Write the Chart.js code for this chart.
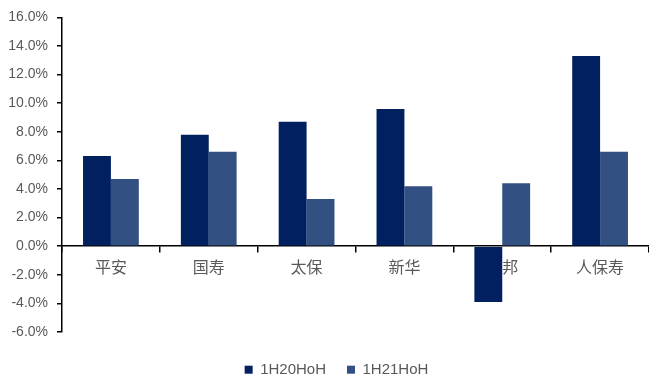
<!DOCTYPE html>
<html>
<head>
<meta charset="utf-8">
<script src="https://cdn.jsdelivr.net/npm/chart.js@4"></script>
<style>
  html, body { margin: 0; padding: 0; background: #fff; }
  #wrap { width: 649px; height: 378px; }
</style>
</head>
<body>
<div id="wrap"><canvas id="myChart" width="649" height="378"></canvas></div>
<script>
const labels = ["平安", "国寿", "太保", "新华", "友邦", "人保寿"];
const hoh20 = [6.3, 7.8, 8.7, 9.6, -3.9, 13.3];
const hoh21 = [4.7, 6.6, 3.3, 4.2, 4.4, 6.6];
const yMin = -6;
const yMax = 16;
const yStep = 2;

const font = "'Liberation Sans', 'Noto Sans CJK SC', sans-serif";
const grey = "#595959";

// fixed legend box height, and nudge it right a bit like the original
const legendSpace = {
  id: "legendSpace",
  beforeLayout(chart) {
    const lg = chart.legend;
    if (lg && !lg._patched) {
      const fit = lg.fit;
      lg.fit = function () {
        fit.call(this);
        this.height = 46;
      };
      const draw = lg.draw;
      lg.draw = function () {
        const ctx = this.ctx;
        ctx.save();
        ctx.translate(12, -1);
        draw.call(this);
        ctx.restore();
      };
      lg._patched = true;
    }
  },
};

const data = {
  labels: labels,
  datasets: [
    {
      label: "1H20HoH",
      backgroundColor: "#002060",
      data: hoh20,
    },
    {
      label: "1H21HoH",
      backgroundColor: "#325082",
      data: hoh21,
    },
  ],
};

const config = {
  type: "bar",
  data: data,
  plugins: [legendSpace],
  options: {
    responsive: false,
    animation: false,
    categoryPercentage: 0.57,
    barPercentage: 1,
    layout: { padding: { top: 13, right: 0, left: 0, bottom: 0 } },
    plugins: {
      tooltip: { enabled: false },
      legend: {
        position: "bottom",
        title: { display: true, text: "", font: { size: 1 }, padding: { top: 0, bottom: 9 } },
        labels: {
          boxWidth: 8,
          boxHeight: 8,
          color: grey,
          font: { family: font, size: 15 },
          padding: 21,
        },
      },
    },
    scales: {
      x: {
        position: { y: 0 },
        z: 1,
        border: { color: "#000", width: 1.5 },
        grid: { drawOnChartArea: false, drawTicks: true, tickLength: 6, color: "#000", lineWidth: 1.5 },
        ticks: { color: grey, font: { family: font, size: 16 }, padding: 7 },
      },
      y: {
        min: yMin,
        max: yMax,
        border: { color: "#000", width: 1.5 },
        grid: { drawOnChartArea: false, drawTicks: true, tickLength: 5, color: "#000", lineWidth: 1.5 },
        ticks: {
          stepSize: yStep,
          color: grey,
          font: { family: font, size: 14 },
          padding: 9,
          callback: (v) => v.toFixed(1) + "%",
        },
        afterFit: (s) => { s.width = 62; },
      },
    },
  },
};

var myChart = new Chart(document.getElementById("myChart"), config);
</script>
</body>
</html>
